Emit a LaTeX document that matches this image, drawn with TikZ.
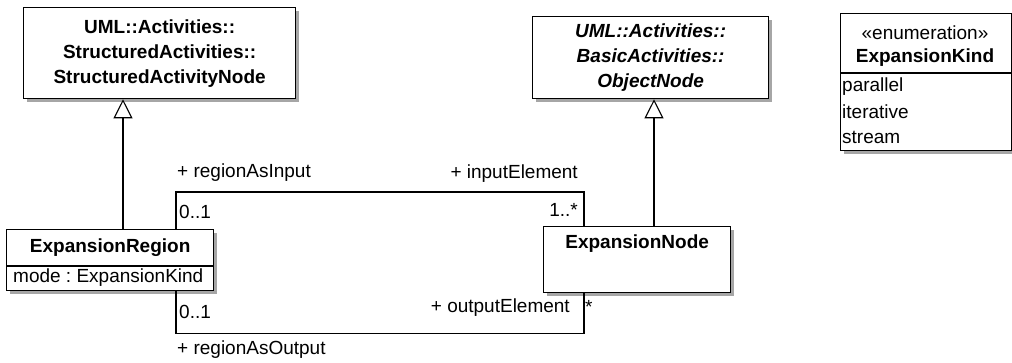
\documentclass[tikz,border=0pt]{standalone}
\usepackage{fontspec}
\setmainfont{Liberation Sans}
\usetikzlibrary{arrows.meta,shadows}
\begin{document}
\frenchspacing
\begin{tikzpicture}[x=1pt,y=-1pt,
  every node/.style={font=\fontsize{19}{25}\selectfont},
  bfont/.style={font=\fontsize{19}{25}\selectfont\bfseries},
  cls/.style={draw=black, line width=1.3pt, fill=white, rectangle, inner sep=0pt, anchor=north west,
     drop shadow={shadow xshift=3pt, shadow yshift=-3pt, fill=black!35, opacity=1}},
  lbl/.style={inner sep=0pt},
  conn/.style={line width=1.1pt, black},
  gen/.style={conn, -{Triangle[open, length=19pt, width=19pt, line width=1.1pt]}},
  divider/.style={line width=1.1pt}
]
\useasboundingbox (0,0) rectangle (1012,362);
% classes
\node[cls, bfont, minimum width=272pt, minimum height=91pt, align=center] (san) at (23,7)
  {UML::Activities::\\StructuredActivities::\\StructuredActivityNode};
\node[cls, minimum width=236pt, minimum height=82pt, align=center, font=\fontsize{19}{25}\selectfont\bfseries\itshape] (obj) at (532,16)
  {UML::Activities::\\BasicActivities::\\ObjectNode};
\node[cls, minimum width=171pt, minimum height=137pt] (enum) at (840,13) {};
\draw[divider] (enum.west |- 0,73) -- (enum.east |- 0,73);
\node[lbl] (enst) at (925,33) {«enumeration»};
\node[lbl, bfont] (enname) at (925,58) {ExpansionKind};
\node[lbl, anchor=west] (par) at (842,87) {parallel};
\node[lbl, anchor=west] (ite) at (842,112) {iterative};
\node[lbl, anchor=west] (str) at (842,137) {stream};

\node[cls, minimum width=207pt, minimum height=61pt] (er) at (6,229) {};
\draw[divider] (er.west |- 0,266) -- (er.east |- 0,266);
\node[lbl, bfont] (ername) at (er.north |- 0,248) {ExpansionRegion};
\node[lbl, anchor=west] (erattr) at (13,278) {mode : ExpansionKind};

\node[cls, minimum width=187pt, minimum height=66pt] (en) at (543,226) {};
\node[lbl, bfont] (enodename) at (en.north |- 0,244) {ExpansionNode};

% generalizations
\draw[gen] ([xshift=117pt]er.north west) -- ([xshift=117pt]er.north west |- san.south);
\draw[gen] ([xshift=111pt]en.north west) -- ([xshift=111pt]en.north west |- obj.south);

% associations
\draw[conn] ([xshift=170pt]er.north west) -- ++(0,-37) -| ([xshift=41pt]en.north west);
\draw[conn] ([xshift=170pt]er.south west) -- ++(0,42) -| ([xshift=41pt]en.south west);

% association labels
\node[lbl, anchor=west] (rin) at (177,173) {+ regionAsInput};
\node[lbl, anchor=west] (m1) at (179,212) {0..1};
\node[lbl, anchor=east] (iel) at (578,174) {+ inputElement};
\node[lbl, anchor=east] (m2) at (578,210) {1..*};
\node[lbl, anchor=east] (oel) at (570,308) {+ outputElement};
\node[lbl, anchor=west] (m3) at (585,307) {*};
\node[lbl, anchor=west] (m4) at (179,312) {0..1};
\node[lbl, anchor=west] (rout) at (177,350) {+ regionAsOutput};
\end{tikzpicture}
\end{document}
